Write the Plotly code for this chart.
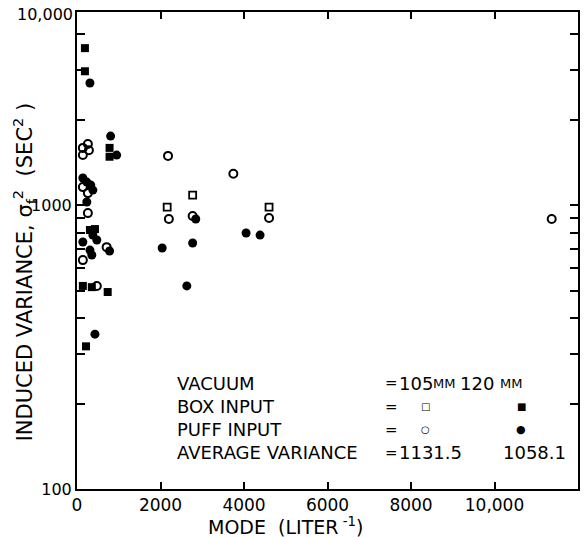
import plotly.graph_objects as go

# ---- data ----
box105_x = [2160, 2770, 4600]
box105_y = [984, 1084, 984]

box120_x = [190, 190, 780, 780, 310, 430, 140, 355, 735, 215]
box120_y = [3570, 2960, 1590, 1480, 817, 823, 519, 514, 494, 318]

puff105_x = [260, 140, 285, 140, 2180, 3745, 140, 260, 260, 710, 140, 475, 2200, 2770, 4600, 11370]
puff105_y = [1640, 1590, 1560, 1500, 1490, 1290, 1157, 1102, 937, 711, 640, 519, 893, 915, 900, 893]

puff120_x = [310, 805, 950, 140, 235, 330, 380, 235, 380, 475, 780, 140, 310, 355,
             2040, 2770, 2845, 4050, 4385, 2630, 430]
puff120_y = [2690, 1750, 1500, 1245, 1205, 1176, 1129, 1025, 784, 753, 689, 741, 694, 667,
             706, 735, 893, 797, 784, 519, 351]

x_ticks = [0, 2000, 4000, 6000, 8000, 10000]
x_ticktext = ["0", "2000", "4000", "6000", "8000", "10,000"]
y_ticks = [100, 1000]
y_ticktext = ["100", "1000"]
y_minor = [200, 300, 400, 500, 600, 700, 800, 900, 2000, 3000, 4000]

avg_105 = "1131.5"
avg_120 = "1058.1"

FONT = "DejaVu Sans"
Y_RANGE = [2, 3.68]

fig = go.Figure()
fig.add_trace(go.Scatter(x=box105_x, y=box105_y, mode="markers", name="105 MM box",
                         marker=dict(symbol="square-open", size=7, color="black",
                                     line=dict(width=1.8, color="black"))))
fig.add_trace(go.Scatter(x=box120_x, y=box120_y, mode="markers", name="120 MM box",
                         marker=dict(symbol="square", size=8, color="black")))
fig.add_trace(go.Scatter(x=puff105_x, y=puff105_y, mode="markers", name="105 MM puff",
                         marker=dict(symbol="circle-open", size=8, color="black",
                                     line=dict(width=2, color="black"))))
# same range on both y axes; this trace also carries the right-hand tick axis
fig.add_trace(go.Scatter(x=puff120_x, y=puff120_y, mode="markers", name="120 MM puff",
                         yaxis="y2",
                         marker=dict(symbol="circle", size=9, color="black")))

fig.update_layout(
    width=584, height=537,
    margin=dict(l=77, r=4, t=12, b=48),
    paper_bgcolor="white", plot_bgcolor="white",
    showlegend=False,
    font=dict(family=FONT, size=16, color="black"),
    xaxis=dict(range=[0, 12000], tickvals=x_ticks, ticktext=x_ticktext,
               ticks="inside", ticklen=7, tickwidth=2, tickcolor="black",
               showline=True, linewidth=2, linecolor="black", mirror="ticks",
               showgrid=False, zeroline=False,
               tickfont=dict(family=FONT, size=17)),
    yaxis=dict(type="log", range=Y_RANGE, tickvals=y_ticks, ticktext=y_ticktext,
               ticks="inside", ticklen=8, tickwidth=2, tickcolor="black",
               showline=True, linewidth=2, linecolor="black", mirror=True,
               showgrid=False, zeroline=False,
               minor=dict(tickvals=y_minor, ticks="inside", ticklen=8, tickwidth=2,
                          tickcolor="black", showgrid=False),
               tickfont=dict(family=FONT, size=16)),
    yaxis2=dict(type="log", range=Y_RANGE, overlaying="y", side="right",
                tickvals=y_ticks, showticklabels=False,
                ticks="inside", ticklen=8, tickwidth=2, tickcolor="black",
                showline=False, showgrid=False, zeroline=False,
                minor=dict(tickvals=y_minor, ticks="inside", ticklen=8, tickwidth=2,
                           tickcolor="black", showgrid=False)),
)

ann = []
def txt(px, y, t, size=18, xanchor="left", **kw):
    ann.append(dict(x=(px - 77) / 503, y=y, xref="paper", yref="paper", text=t,
                    showarrow=False, xanchor=xanchor, yanchor="middle",
                    font=dict(family=FONT, size=size, color="black"), **kw))

rows = [0.222, 0.172, 0.124, 0.0755]
txt(175, rows[0], "VACUUM")
txt(384, rows[0], "=", size=15)
txt(398, rows[0], "105")
txt(432, rows[0], "MM", size=13)
txt(460, rows[0], "120")
txt(500, rows[0], "MM", size=13)
txt(175, rows[1], "BOX INPUT")
txt(384, rows[1], "=", size=15)
txt(427, rows[1], "□", size=10, xanchor="center")
txt(523, rows[1], "■", size=10, xanchor="center")
txt(175, rows[2], "PUFF INPUT")
txt(384, rows[2], "=", size=15)
txt(427, rows[2], "○", size=10, xanchor="center")
txt(523, rows[2], "●", size=11, xanchor="center")
txt(175, rows[3], "AVERAGE VARIANCE")
txt(384, rows[3], "=", size=15)
txt(398, rows[3], avg_105)
txt(503, rows[3], avg_120)

# axis titles
ann.append(dict(x=(286 - 77) / 503, y=-0.077, xref="paper", yref="paper",
                text="MODE  (LITER<sup> -1</sup>)", showarrow=False,
                xanchor="center", yanchor="middle",
                font=dict(family=FONT, size=19, color="black")))
ann.append(dict(x=-0.105, y=0.455, xref="paper", yref="paper",
                text="INDUCED VARIANCE, σ<sub>f</sub><sup>2</sup>  (SEC<sup>2</sup> )",
                showarrow=False, textangle=-90, xanchor="center", yanchor="middle",
                font=dict(family=FONT, size=21, color="black")))
# top-left axis label as printed on the reference
ann.append(dict(x=0, y=1, xref="paper", yref="paper", text="10,000", showarrow=False,
                xanchor="right", yanchor="middle", xshift=-2, yshift=-2,
                font=dict(family=FONT, size=16, color="black")))
fig.update_layout(annotations=ann)

fig.write_html("out.html", config={"displayModeBar": False},
               post_script="document.body.style.margin='0px';document.body.style.padding='0px';")
